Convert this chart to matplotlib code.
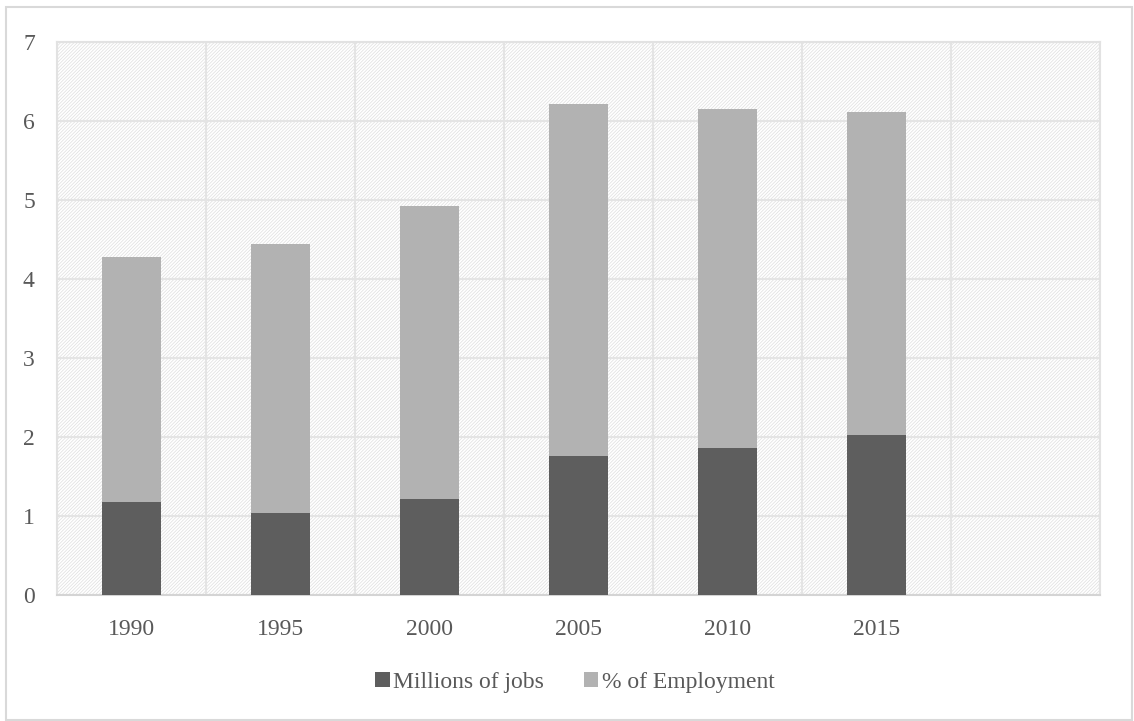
import matplotlib.pyplot as plt
import numpy as np
from matplotlib.patches import Rectangle

# Jobs data, stacked per year
years = ['1990', '1995', '2000', '2005', '2010', '2015']
millions_of_jobs = [1.18, 1.04, 1.22, 1.76, 1.86, 2.02]
pct_employment = [3.10, 3.40, 3.71, 4.46, 4.29, 4.09]
n_slots = 7  # one empty category slot after 2015

plt.rcParams['font.family'] = ['Liberation Serif', 'DejaVu Serif']
plt.rcParams['hatch.color'] = '#dedede'
plt.rcParams['hatch.linewidth'] = 0.5

fig = plt.figure(figsize=(11.34, 7.21), dpi=100)
ax = fig.add_axes([0.0503, 0.1748, 0.9197, 0.7669])

# fine diagonal texture in the plot area
ax.patch.set_facecolor('white')
ax.patch.set_hatch('//////////')
ax.patch.set_edgecolor('#dedede')
ax.patch.set_linewidth(0)

x = np.arange(len(years))
ax.bar(x, millions_of_jobs, width=0.4, color='#5e5e5e', label='Millions of jobs', zorder=3)
ax.bar(x, pct_employment, width=0.4, bottom=millions_of_jobs, color='#b2b2b2',
       label='% of Employment', zorder=3)

ax.set_xlim(-0.5, n_slots - 0.5)
ax.set_ylim(0, 7)
ax.set_yticks(range(0, 8))
ax.set_xticks(x)
ax.set_xticklabels(years)
ax.set_xticks(np.arange(n_slots + 1) - 0.5, minor=True)

ax.grid(axis='y', which='major', color='#e4e4e4', linewidth=1.5, zorder=1)
ax.grid(axis='x', which='minor', color='#e4e4e4', linewidth=1.5, zorder=1)
ax.set_axisbelow(True)

ax.tick_params(axis='both', which='both', length=0, colors='#595959', labelsize=17)
ax.tick_params(axis='y', pad=16)
ax.tick_params(axis='x', pad=17)

for side, spine in ax.spines.items():
    spine.set_color('#e2e2e2')
    spine.set_linewidth(1.5)
ax.spines['bottom'].set_color('#d4d4d4')

leg = fig.legend(loc='center', bbox_to_anchor=(0.507, 0.053), ncol=2, frameon=False,
                 fontsize=17, handlelength=0.6, handleheight=0.6,
                 handletextpad=0.15, columnspacing=1.7)
for t in leg.get_texts():
    t.set_color('#595959')

# outer chart frame
fig.patches.append(Rectangle((6 / 1134, 1 / 721), 1126 / 1134, 713 / 721,
                             transform=fig.transFigure, fill=False,
                             edgecolor='#d9d9d9', linewidth=1.5))

fig.savefig('out.png', dpi=100)
